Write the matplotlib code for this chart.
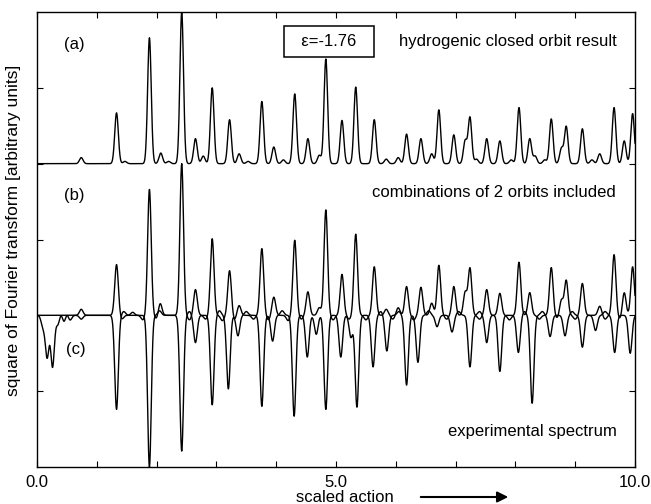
"""Fourier transform spectra: closed orbit theory vs experiment."""
import numpy as np
import matplotlib
matplotlib.use("Agg")
import matplotlib.pyplot as plt

plt.rcParams['font.family'] = ['Liberation Sans', 'DejaVu Sans']

# (a) hydrogenic closed orbit result: peak positions (scaled action) and heights
a_pos = [0.74, 1.33, 1.47, 1.88, 2.07, 2.20, 2.42, 2.65, 2.78, 2.93, 3.22, 3.38,
         3.53, 3.76, 3.96, 4.12, 4.31, 4.53, 4.72, 4.83, 5.10, 5.33, 5.64, 5.84,
         6.04, 6.18, 6.42, 6.60, 6.72, 6.97, 7.16, 7.24, 7.35, 7.52, 7.74, 7.93,
         8.06, 8.24, 8.33, 8.49, 8.60, 8.77, 8.85, 9.12, 9.28, 9.41, 9.65, 9.82, 9.96]
a_h = [0.08, 0.67, 0.03, 1.66, 0.14, 0.03, 2.00, 0.33, 0.10, 1.00, 0.58, 0.13,
       0.03, 0.82, 0.22, 0.05, 0.92, 0.33, 0.11, 1.38, 0.57, 1.01, 0.58, 0.06,
       0.08, 0.39, 0.33, 0.13, 0.71, 0.38, 0.30, 0.61, 0.06, 0.33, 0.30, 0.05,
       0.74, 0.33, 0.10, 0.05, 0.59, 0.20, 0.49, 0.46, 0.05, 0.13, 0.74, 0.30, 0.66]

# (b) combinations of 2 orbits included (small negative values = ripples)
b_pos = [0.74, 1.33, 1.42, 1.77, 1.88, 2.00, 2.06, 2.42, 2.55, 2.65, 2.82, 2.93,
         3.10, 3.22, 3.30, 3.38, 3.62, 3.76, 3.87, 3.96, 4.20, 4.31, 4.42, 4.53,
         4.72, 4.83, 4.95, 5.10, 5.22, 5.33, 5.50, 5.64, 5.84, 5.95, 6.04, 6.18,
         6.30, 6.42, 6.60, 6.72, 6.85, 6.97, 7.16, 7.24, 7.40, 7.52, 7.74, 7.90,
         8.06, 8.24, 8.40, 8.60, 8.70, 8.77, 8.85, 9.00, 9.12, 9.41, 9.50, 9.65,
         9.75, 9.82, 9.96]
b_h = [0.08, 0.67, -0.05, -0.06, 1.66, -0.05, 0.16, 2.00, -0.06, 0.34, -0.05, 1.01,
       -0.07, 0.59, -0.06, 0.13, -0.05, 0.88, -0.06, 0.24, -0.07, 0.99, -0.05, 0.31,
       0.10, 1.39, -0.06, 0.54, -0.05, 1.07, -0.06, 0.64, 0.08, -0.05, 0.10, 0.38,
       -0.06, 0.37, 0.16, 0.66, -0.05, 0.38, 0.30, 0.62, -0.05, 0.34, 0.29, -0.06,
       0.70, 0.30, -0.05, 0.63, -0.04, 0.20, 0.46, -0.05, 0.42, 0.12, -0.05, 0.80,
       -0.05, 0.30, 0.64]

# (c) experimental spectrum, plotted downward (small negative values = ripples)
c_pos = [0.10, 0.17, 0.26, 0.35, 0.40, 0.45, 0.50, 0.55, 0.74, 1.33, 1.45, 1.60,
         1.88, 2.05, 2.42, 2.55, 2.65, 2.93, 3.05, 3.20, 3.36, 3.50, 3.76, 3.94,
         4.10, 4.30, 4.52, 4.67, 4.83, 5.08, 5.25, 5.35, 5.62, 5.75, 5.85, 6.05,
         6.18, 6.37, 6.55, 6.69, 6.94, 7.05, 7.24, 7.40, 7.52, 7.74, 8.05, 8.15,
         8.28, 8.45, 8.58, 8.83, 8.95, 9.12, 9.34, 9.50, 9.66, 9.92]
c_h = [0.15, 0.55, 0.68, 0.13, -0.05, 0.10, -0.04, 0.07, 0.05, 1.24, -0.05, -0.04,
       2.00, -0.06, 1.79, -0.05, 0.36, 1.18, -0.06, 0.97, 0.27, -0.05, 1.20, 0.34,
       -0.06, 1.33, 0.55, 0.25, 1.24, 0.55, 0.29, 1.21, 0.68, -0.05, 0.47, -0.05,
       0.92, 0.62, -0.06, 0.15, 0.22, -0.05, 0.68, -0.05, 0.36, 0.74, 0.49, -0.05,
       1.16, -0.05, 0.28, 0.27, -0.05, 0.42, 0.20, -0.05, 0.49, 0.50]

x = np.linspace(0, 10, 4001)
width = 0.03


def spectrum(pos, h):
    y = np.zeros_like(x)
    for p, v in zip(pos, h):
        y += v * np.exp(-0.5 * ((x - p) / width) ** 2)
    return y


fig = plt.figure(figsize=(6.51, 5.04), dpi=100)
ax = fig.add_axes([37 / 651, 1 - 467 / 504, 598 / 651, 455 / 504])

ax.plot(x, 4 + spectrum(a_pos, a_h), color='black', lw=1.0)
ax.plot(x, 2 + spectrum(b_pos, b_h), color='black', lw=1.0)
ax.plot(x, 2 - spectrum(c_pos, c_h), color='black', lw=1.0)

ax.set_xlim(0, 10)
ax.set_ylim(0, 6)
ax.set_xticks(np.arange(0, 11, 1))
ax.set_xticklabels(['0.0', '', '', '', '', '5.0', '', '', '', '', '10.0'])
ax.set_yticks([1, 2, 3, 4, 5])
ax.set_yticklabels([])
ax.tick_params(direction='in', length=4, width=0.8, top=True, right=True,
               labelsize=12, pad=6)
for s in ax.spines.values():
    s.set_linewidth(1.0)

fs = 12
ax.text(0.45, 5.57, '(a)', fontsize=fs, va='center')
ax.text(0.45, 3.58, '(b)', fontsize=fs, va='center')
ax.text(0.48, 1.55, '(c)', fontsize=fs, va='center')
ax.text(4.88, 5.61, '  ε=-1.76  ', fontsize=fs, ha='center', va='center',
        bbox=dict(boxstyle='square,pad=0.5', fc='white', ec='black', lw=1.1))
ax.text(6.05, 5.61, 'hydrogenic closed orbit result', fontsize=fs, va='center')
ax.text(5.6, 3.62, 'combinations of 2 orbits included', fontsize=fs, va='center')
ax.text(6.87, 0.47, 'experimental spectrum', fontsize=fs, va='center')

fig.text(14 / 651, 1 - 230 / 504, 'square of Fourier transform [arbitrary units]',
         rotation=90, ha='center', va='center', fontsize=12.5)
fig.text(345 / 651, 1 - 497 / 504, 'scaled action', ha='center', va='center',
         fontsize=fs)
ax.annotate('', xy=(511 / 651, 1 - 497 / 504), xytext=(418 / 651, 1 - 497 / 504),
            xycoords='figure fraction', textcoords='figure fraction',
            arrowprops=dict(arrowstyle='-|>', color='black', lw=1.5,
                            mutation_scale=16))

fig.savefig('out.png', dpi=100)
